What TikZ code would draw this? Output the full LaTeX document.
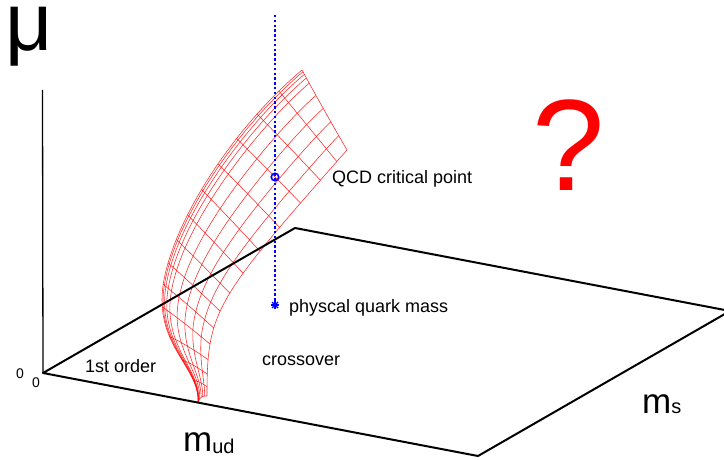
\documentclass[tikz,border=0pt]{standalone}
\usepackage{fontspec}
\setmainfont{Liberation Sans}
\begin{document}
\begin{tikzpicture}[x=1pt,y=-1pt,
  declare function={
    bz(\qa,\qb,\qc,\qd,\qt)=(1-\qt)*(1-\qt)*(1-\qt)*\qa+3*(1-\qt)*(1-\qt)*\qt*\qb+3*(1-\qt)*\qt*\qt*\qc+\qt*\qt*\qt*\qd;
    lx(\la)=(\la<0.3)*bz(198,200,162,162,min(\la/0.3,1))+(\la>=0.3)*bz(162,162,225,302,max((\la-0.3)/0.7,0));
    ly(\lb)=(\lb<0.3)*bz(403,370,350,300,min(\lb/0.3,1))+(\lb>=0.3)*bz(300,240,135,70,max((\lb-0.3)/0.7,0));
    tm(\ta)=\ta+1.4*\ta*(1-\ta)*(\ta-0.443);
    rx(\ra)=bz(207,207,215,347,tm(\ra));
    ry(\rb)=bz(396,310,300,150,tm(\rb));
    sx(\sa,\sb)=(1-\sa)*lx(\sb)+\sa*rx(\sb)-6*\sa*(1-\sa);
    sy(\sc,\sd)=(1-\sc)*ly(\sd)+\sc*ry(\sd)-8*\sc*(1-\sc);
    sm(\sq)=(\sq<0.18)*(\sq*\sq/0.36+\sq/2)+(\sq>=0.18)*\sq;
  },
  meshline/.style={red, line width=0.55pt, opacity=0.85},
  edgeline/.style={black, line width=2pt},
  axisline/.style={black, line width=1.3pt},
  lab/.style={inner sep=0pt, anchor=base west, font=\fontsize{18}{21}\selectfont},
  zerolab/.style={inner sep=0pt, anchor=base west, font=\fontsize{14}{16}\selectfont},
  bigm/.style={inner sep=0pt, anchor=base west},
  bluedots/.style={blue, line width=1.8pt, dash pattern=on 2.4pt off 2.4pt},
  starline/.style={blue, line width=1.4pt}
]
\useasboundingbox (0,0) rectangle (724,460);
\clip (0,0) rectangle (724,460);

% surface mesh: lines of constant s (running up the sheet)
\foreach \sv in {0,0.025,0.06,0.11,0.18,0.34,0.505,0.67,0.835,1}{
  \draw[meshline] plot[variable=\vt, domain=0:1, samples=60, smooth] ({sx(\sv,\vt)},{sy(\sv,\vt)});
}
% lines of constant t (running across the sheet)
\foreach \j in {0,...,14}{
  \pgfmathsetmacro\tv{\j/14}
  \draw[meshline] plot[variable=\vs, domain=0:1, samples=30, smooth] ({sx(sm(\vs),\tv)},{sy(sm(\vs),\tv)});
}

% base plane and axis
\coordinate (O) at (43,373);
\coordinate (A) at (478,456);
\coordinate (B) at (295,228);
\coordinate (C) at (730,311);
\coordinate (Mtop) at (42.5,90);
\draw[axisline] (Mtop) -- (O);
\draw[edgeline, line join=round] (B) -- (O) -- (A) -- (C) -- cycle;

% blue markers
\coordinate (ptop) at (275,15);
\node[circle, draw=blue, line width=1.6pt, inner sep=0pt, minimum size=7.5pt] (cp) at (275,177) {};
\node[inner sep=0pt, minimum size=8pt] (pm) at (275,305) {};
\draw[bluedots] (ptop) -- (pm.center);
\draw[starline] (pm.center) ++(-4,0) -- ++(8,0);
\draw[starline] (pm.center) ++(0,-4) -- ++(0,8);
\draw[starline] (pm.center) ++(-3,-3) -- ++(6,6);
\draw[starline] (pm.center) ++(-3,3) -- ++(6,-6);

% labels
\node[bigm, font=\fontsize{82}{84}\selectfont] (mu) at (5,51) {\smash{μ}};
\node[bigm, text=red, font=\fontsize{130}{134}\selectfont] (qm) at (532,190) {?};
\node[lab] (qcd) at (332,183) {QCD critical point};
\node[lab] (phys) at (289,312) {physcal quark mass};
\node[lab] (cross) at (262,365) {crossover};
\node[lab] (first) at (85,372) {1st order};
\node[zerolab] (z1) at (16,378) {0};
\node[zerolab] (z2) at (32,387) {0};
\node[bigm] (mud) at (183,451) {\fontsize{35}{38}\selectfont m\raisebox{-2pt}{\fontsize{20}{22}\selectfont ud}};
\node[bigm] (ms) at (642,413) {\fontsize{35}{38}\selectfont m{\fontsize{20}{22}\selectfont s}};
\end{tikzpicture}
\end{document}
